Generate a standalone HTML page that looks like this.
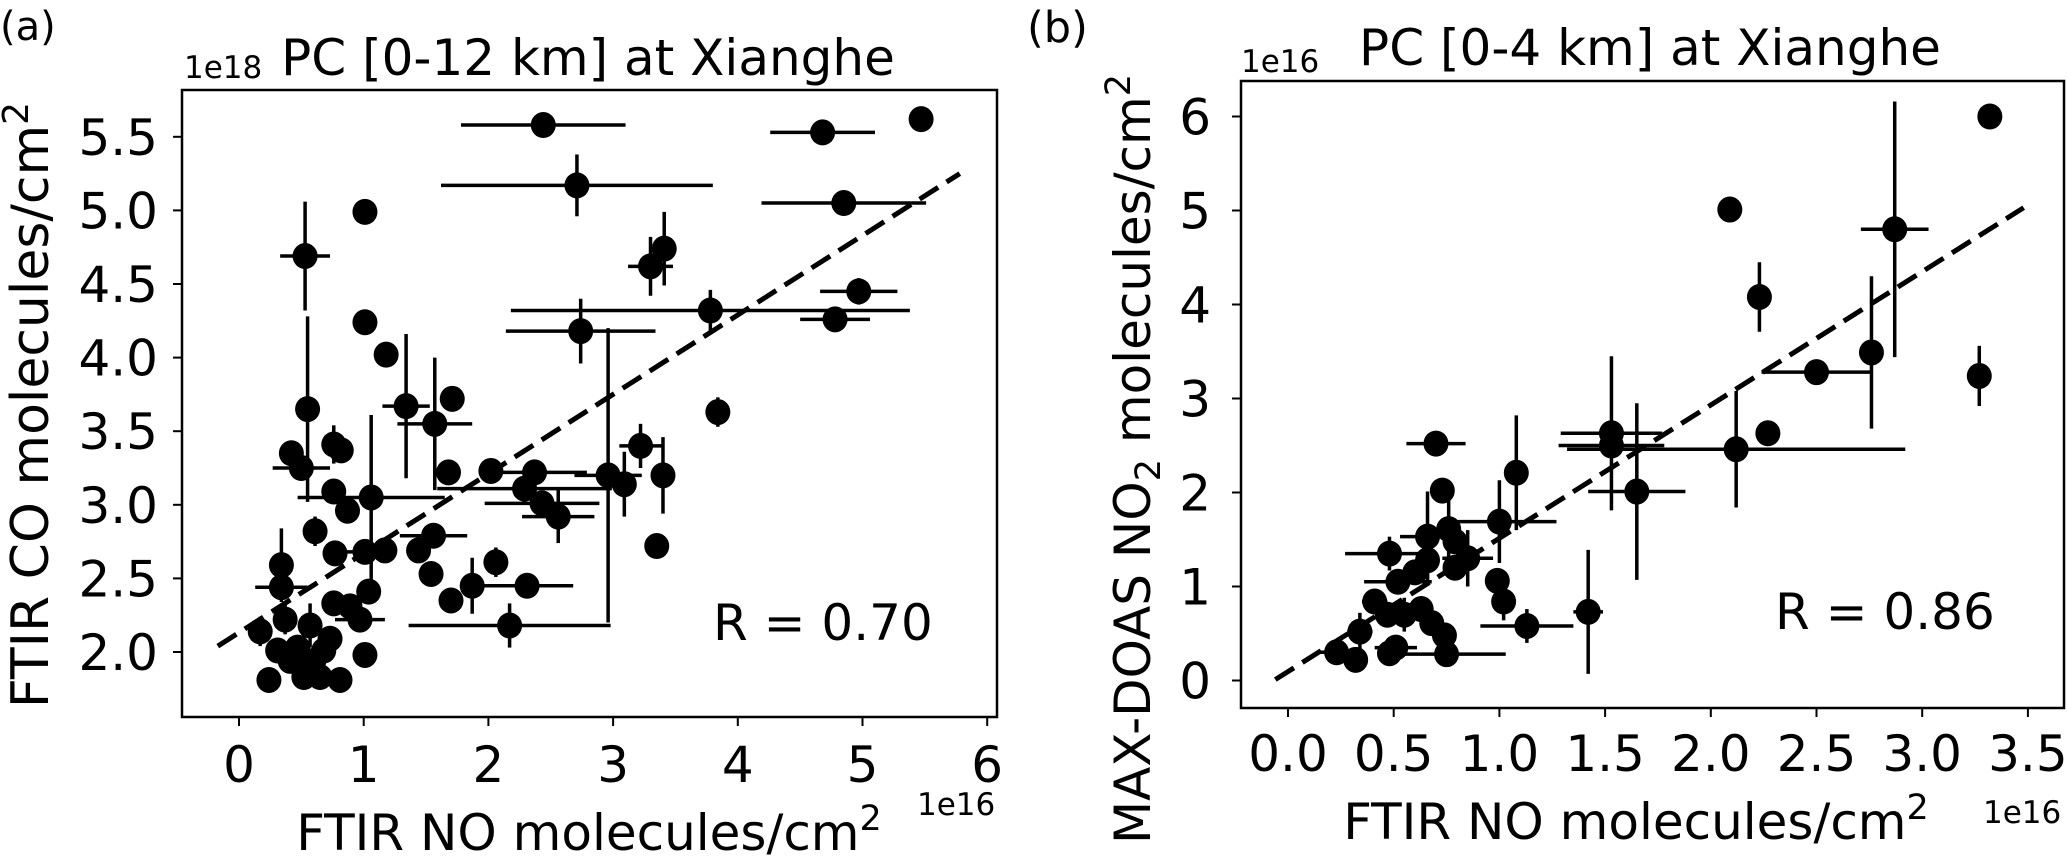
<!DOCTYPE html>
<html><head><meta charset="utf-8"><style>
body{margin:0;background:#fff}
svg{display:block}
text{font-family:"DejaVu Sans","Liberation Sans",sans-serif;fill:#000}
</style></head><body>
<svg id="fig" width="2067" height="857" viewBox="0 0 2067 857" xmlns="http://www.w3.org/2000/svg">
<text x="0" y="40" font-size="40">(a)</text>
<text x="1027" y="42" font-size="43">(b)</text>
<text x="588" y="75" font-size="50" text-anchor="middle">PC [0-12 km] at Xianghe</text>
<text x="1650" y="65" font-size="50" text-anchor="middle">PC [0-4 km] at Xianghe</text>
<g id="pa"></g>
<g id="pb"></g>
<text x="184" y="78" font-size="31">1e18</text>
<text x="1241" y="72" font-size="31">1e16</text>
<text x="917" y="815" font-size="31">1e16</text>
<text x="1983" y="823" font-size="31">1e16</text>
<text x="589" y="850" font-size="50" text-anchor="middle">FTIR NO molecules/cm<tspan dy="-20" font-size="35">2</tspan></text>
<text x="1636" y="839" font-size="50" text-anchor="middle">FTIR NO molecules/cm<tspan dy="-20" font-size="35">2</tspan></text>
<text transform="translate(48,405) rotate(-90)" font-size="52" text-anchor="middle">FTIR CO molecules/cm<tspan dy="-20" font-size="36">2</tspan></text>
<text transform="translate(1150,459) rotate(-90)" font-size="50" text-anchor="middle">MAX-DOAS NO<tspan dy="10" font-size="35">2</tspan><tspan dy="-10"> molecules/cm</tspan><tspan dy="-20" font-size="35">2</tspan></text>
<text x="713" y="640" font-size="50">R = 0.70</text>
<text x="1775" y="629" font-size="50">R = 0.86</text>
</svg>
<script>
// Panel A data (x in 1e16, y in 1e18)
const aX = [2.44,4.68,5.47,2.71,4.85,1.01,0.53,3.41,3.30,4.97,4.78,3.78,2.74,1.01,1.18,1.34,1.71,1.57,0.55,3.84,3.22,0.42,0.50,0.76,0.82,1.68,2.02,2.37,2.96,3.40,3.09,0.76,1.06,2.29,2.43,2.56,0.87,0.61,0.77,1.01,1.17,1.44,1.56,1.54,1.70,1.87,2.06,2.31,2.17,3.35,0.34,0.34,1.04,1.01,0.17,0.31,0.24,0.37,0.52,0.65,0.81,0.57,0.68,0.76,0.89,0.97,0.41,0.60,0.73,0.47];
const aY = [5.58,5.53,5.62,5.17,5.05,4.99,4.69,4.74,4.62,4.45,4.26,4.32,4.18,4.24,4.02,3.67,3.72,3.55,3.65,3.63,3.40,3.35,3.25,3.41,3.37,3.22,3.23,3.22,3.20,3.20,3.14,3.09,3.05,3.11,3.01,2.92,2.96,2.82,2.67,2.68,2.69,2.69,2.79,2.53,2.35,2.45,2.61,2.45,2.18,2.72,2.59,2.44,2.41,1.98,2.14,2.01,1.81,2.22,1.83,1.83,1.81,2.18,2.01,2.33,2.31,2.22,1.94,1.94,2.09,2.03];
const aXerr = [0.66,0.42,0,1.09,0.66,0,0.2,0,0.18,0.31,0.28,1.6,0.6,0,0,0.19,0,0.3,0,0.09,0.17,0,0.23,0,0,0,0,0.42,0.27,0,0,0,0.59,0.7,0.46,0.29,0,0,0,0.24,0,0,0.27,0,0,0,0,0.37,0.81,0,0,0.21,0,0,0.08,0,0,0.05,0,0,0,0.05,0.06,0,0,0.2,0,0,0,0];
const aYerr = [0,0,0,0.21,0.05,0,0.37,0.25,0.2,0.09,0,0.14,0.22,0,0,0.49,0,0.45,0.63,0.1,0.15,0,0,0.13,0,0,0,0.06,1.0,0.26,0.22,0,0.56,0.1,0.06,0.18,0,0.1,0,0,0,0,0,0,0,0.19,0.1,0,0.15,0.08,0.25,0,0,0,0.1,0,0,0.1,0,0,0,0.15,0.08,0.06,0.06,0,0,0.08,0.08,0];
const aFit = [-0.17,2.04,5.78,5.25];
const aXTicks = [0,1,2,3,4,5,6];
const aYTicks = [2.0,2.5,3.0,3.5,4.0,4.5,5.0,5.5];

// Panel B data (x and y in 1e16)
const bX = [3.32,2.09,2.87,2.23,2.76,2.50,3.27,2.27,2.12,1.53,1.53,1.65,0.70,1.08,0.73,1.00,0.76,0.66,0.79,0.85,0.79,0.66,0.48,0.60,0.52,0.99,1.02,1.13,1.42,0.41,0.47,0.55,0.63,0.68,0.74,0.75,0.34,0.23,0.32,0.48,0.51];
const bY = [6.00,5.01,4.80,4.08,3.49,3.28,3.24,2.63,2.46,2.63,2.50,2.01,2.52,2.21,2.02,1.69,1.61,1.53,1.48,1.30,1.20,1.28,1.35,1.15,1.05,1.06,0.84,0.58,0.73,0.84,0.70,0.70,0.76,0.61,0.48,0.28,0.52,0.30,0.22,0.29,0.35];
const bXerr = [0,0,0.16,0.04,0,0.26,0,0,0.8,0.24,0.25,0.23,0.14,0,0,0.27,0,0.13,0,0.12,0,0,0.21,0,0.16,0,0,0.22,0.07,0.06,0,0,0,0,0,0.28,0.06,0.08,0,0,0.1];
const bYerr = [0,0,1.36,0.37,0.81,0,0.32,0.08,0.62,0.82,0,0.94,0,0.61,0.1,0.44,0.49,0.48,0,0.3,0,0.2,0.18,0,0.1,0.1,0.2,0.18,0.66,0.12,0,0.18,0,0.1,0,0.05,0.2,0,0,0,0.05];
const bFit = [-0.06,0.01,3.48,5.03];
const bXTicks = [0.0,0.5,1.0,1.5,2.0,2.5,3.0,3.5];
const bYTicks = [0,1,2,3,4,5,6];

const NS = "http://www.w3.org/2000/svg";
function mk(parent, tag, attrs, txt){
  const e = document.createElementNS(NS, tag);
  for (const k in attrs) e.setAttribute(k, attrs[k]);
  if (txt !== undefined) e.textContent = txt;
  parent.appendChild(e);
  return e;
}

function drawPanel(g, cfg){
  const sx = v => cfg.x0px + (v - cfg.x0v) * cfg.xs;
  const sy = v => cfg.y0px - (v - cfg.y0v) * cfg.ys;
  for (let i = 0; i < cfg.X.length; i++){
    const cx = sx(cfg.X[i]), cy = sy(cfg.Y[i]);
    if (cfg.XE[i] > 0){
      const l = mk(g, 'line', {x1:sx(cfg.X[i]-cfg.XE[i]), x2:sx(cfg.X[i]+cfg.XE[i]), y1:cy, y2:cy, stroke:'#000','stroke-width':3.5});
      
      
    }
    if (cfg.YE[i] > 0){
      const l = mk(g, 'line', {x1:cx, x2:cx, y1:sy(cfg.Y[i]-cfg.YE[i]), y2:sy(cfg.Y[i]+cfg.YE[i]), stroke:'#000','stroke-width':3.5});
      
      
    }
  }
  for (let i = 0; i < cfg.X.length; i++){
    const c = mk(g, 'ellipse', {cx:sx(cfg.X[i]), cy:sy(cfg.Y[i]), rx:12.5, ry:13, fill:'#000'});
    
    
  }
  const f = cfg.fit;
  const fl = mk(g, 'line', {x1:sx(f[0]), y1:sy(f[1]), x2:sx(f[2]), y2:sy(f[3]), stroke:'#000','stroke-width':5,'stroke-dasharray':'22,10'});
  
  
  const fr = mk(g, 'rect', {x:cfg.box[0], y:cfg.box[1], width:cfg.box[2]-cfg.box[0], height:cfg.box[3]-cfg.box[1], fill:'none', stroke:'#000','stroke-width':2.5});
  
  
  cfg.xt.forEach(v => {
    const x = sx(v);
    const t = mk(g, 'line', {x1:x, x2:x, y1:cfg.box[3], y2:cfg.box[3]+9, stroke:'#000','stroke-width':2});
    
    
    const lb = mk(g, 'text', {x:x, y:cfg.xtY, 'font-size':50, 'text-anchor':'middle'}, cfg.xfmt(v));
    
    
  });
  cfg.yt.forEach(v => {
    const y = sy(v);
    const t = mk(g, 'line', {x1:cfg.box[0]-9, x2:cfg.box[0], y1:y, y2:y, stroke:'#000','stroke-width':2});
    
    
    const lb = mk(g, 'text', {x:cfg.ytX, y:y+18, 'font-size':50, 'text-anchor':'end'}, cfg.yfmt(v));
    
    
  });
}

drawPanel(document.getElementById('pa'), {X:aX, Y:aY, XE:aXerr, YE:aYerr, fit:aFit, xt:aXTicks, yt:aYTicks,
  x0px:239, x0v:0, xs:124.7, y0px:652, y0v:2.0, ys:147.2,
  box:[182,90,997,717], xtY:782, ytX:158, xfmt:v=>String(v), yfmt:v=>v.toFixed(1)});
drawPanel(document.getElementById('pb'), {X:bX, Y:bY, XE:bXerr, YE:bYerr, fit:bFit, xt:bXTicks, yt:bYTicks,
  x0px:1288, x0v:0, xs:211.4, y0px:680.5, y0v:0, ys:94.0,
  box:[1241,81,2064,708], xtY:771, ytX:1211, xfmt:v=>v.toFixed(1), yfmt:v=>String(v)});
</script>
</body></html>
